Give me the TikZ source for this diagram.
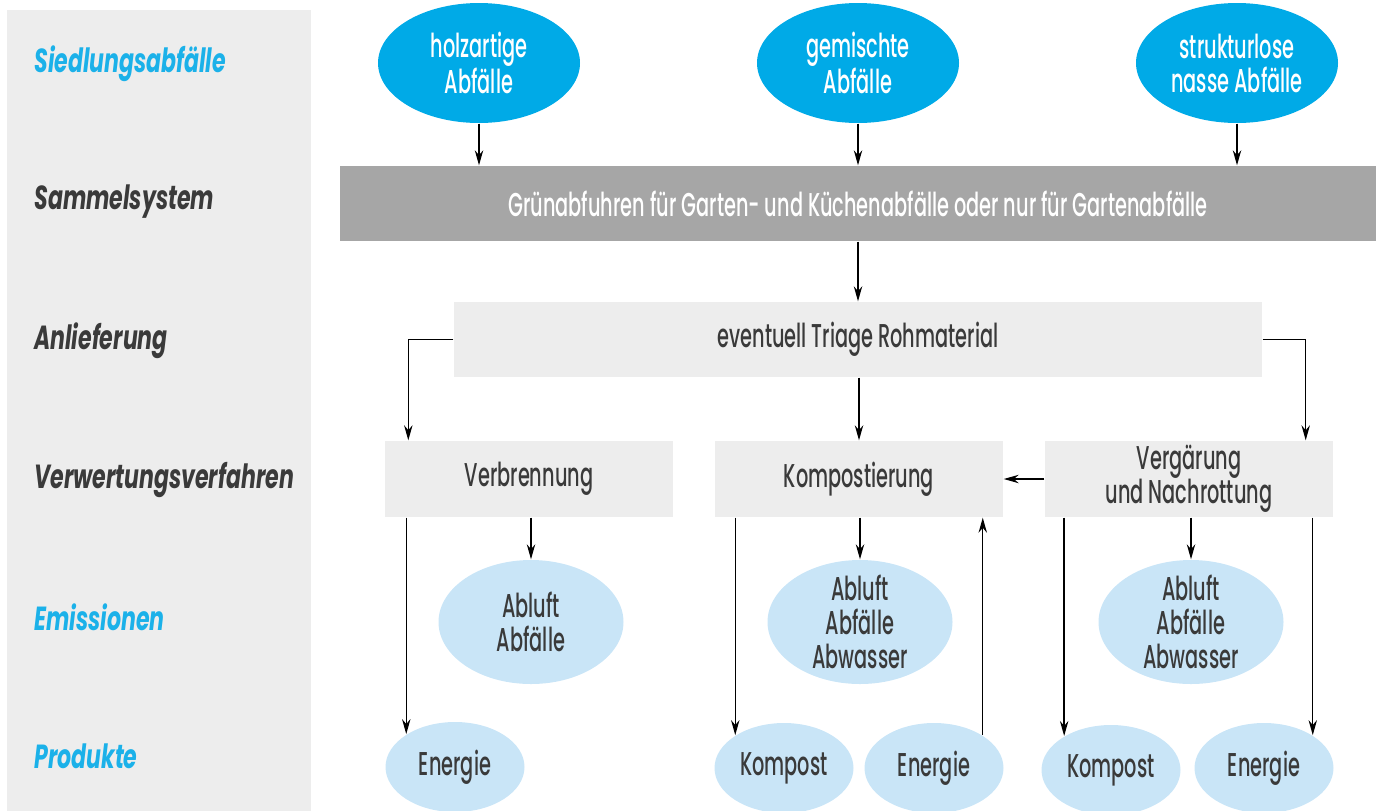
\documentclass[tikz,border=0pt]{standalone}
\usepackage{fontspec}
\setmainfont[FakeStretch=0.585]{Poppins Medium}
\newfontfamily\titelfont[FakeStretch=0.66]{Poppins}
\usetikzlibrary{arrows.meta, shapes.geometric}
\definecolor{cyanlab}{HTML}{1BB1E9}
\definecolor{cyanfill}{HTML}{00AAE7}
\definecolor{hellblau}{HTML}{C9E5F7}
\definecolor{grau}{HTML}{A6A6A6}
\definecolor{hellgrau}{HTML}{EDEDED}
\definecolor{dunkel}{HTML}{3A3A3A}
\begin{document}
\begin{tikzpicture}[x=0.5pt, y=-0.5pt, >={Stealth[length=7.5pt, width=4.2pt]}, line width=0.7pt,
    every node/.style={font=\fontsize{16.5}{17}\selectfont, text=dunkel, align=center},
    zeile/.style={anchor=west, font=\titelfont\fontsize{16.7}{17}\selectfont\bfseries\itshape},
    quelle/.style={ellipse, fill=cyanfill, text=white, minimum width=101pt, minimum height=60pt, inner sep=0pt},
    balken/.style={rectangle, fill=hellgrau, minimum height=37.5pt, inner sep=0pt},
    verfahren/.style={balken, minimum width=144pt, minimum height=38pt},
    emission/.style={ellipse, fill=hellblau, minimum width=92.5pt, minimum height=62pt, inner sep=-8pt},
    produkt/.style={ellipse, fill=hellblau, minimum width=69.5pt, minimum height=45pt, inner sep=0pt}]
    % 0. Rahmen und Hintergrund links
    \useasboundingbox (0,0) rectangle (1376,810);
    \fill[hellgrau] (7,10) rectangle (311,815);

    % 1. Zeilentitel
    \node[zeile, text=cyanlab] (t1) at (27,64) {Siedlungsabfälle};
    \node[zeile] (t2) at (27,202) {Sammelsystem};
    \node[zeile] (t3) at (27,341) {Anlieferung};
    \node[zeile] (t4) at (27,480) {Verwertungsverfahren};
    \node[zeile, text=cyanlab] (t5) at (27,617) {Emissionen};
    \node[zeile, text=cyanlab] (t6) at (27,756) {Produkte};

    % 2. Siedlungsabfälle
    \node[quelle] (holz) at (479,63) {holzartige\\Abfälle};
    \node[quelle] (gemischt) at (858,63) {gemischte\\Abfälle};
    \node[quelle] (nass) at (1237,63) {strukturlose\\nasse Abfälle};

    % 3. Sammelsystem und Anlieferung
    \node[balken, fill=grau, text=white, minimum width=518pt] (sammel) at (858,203.5)
        {Grünabfuhren für Garten- und Küchenabfälle oder nur für Gartenabfälle};
    \node[balken, minimum width=404pt] (triage) at (858,339.5) {eventuell Triage Rohmaterial};

    % 4. Verwertungsverfahren
    \node[verfahren] (verbr) at (529,479) {Verbrennung};
    \node[verfahren] (kompo) at (859,479) {Kompostierung};
    \node[verfahren] (vergaer) at (1189,479) {Vergärung\\und Nachrottung};

    % 5. Emissionen
    \node[emission] (em1) at (531,622) {Abluft\\Abfälle};
    \node[emission] (em2) at (860,622) {Abluft\\Abfälle\\Abwasser};
    \node[emission] (em3) at (1191,622) {Abluft\\Abfälle\\Abwasser};

    % 6. Produkte
    \node[produkt] (en1) at (455,767) {Energie};
    \node[produkt] (kp1) at (784,768) {Kompost};
    \node[produkt] (en2) at (934,768) {Energie};
    \node[produkt] (kp2) at (1111,770) {Kompost};
    \node[produkt] (en3) at (1264,768) {Energie};

    % 7. Pfeile
    \foreach \q in {holz, gemischt, nass}
        \draw[->] (\q.south) -- (\q.south |- sammel.north);
    \draw[->] (sammel.south -| triage.north) -- (triage.north);
    \draw[->] (triage.west) -| ([xshift=12pt]verbr.north west);
    \draw[->] (triage.east) -| ([xshift=-14pt]vergaer.north east);
    \draw[->] (triage.south -| kompo.north) -- (kompo.north);
    \draw[->] (vergaer.west) -- (kompo.east);
    \foreach \v/\e in {verbr/em1, kompo/em2, vergaer/em3}
        \draw[->] (\v.south -| \e.north) -- (\e.north);
    \draw[->] (verbr.south -| en1.146) -- (en1.146);
    \draw[->] (kompo.south -| kp1.146) -- (kp1.146);
    \draw[->] (en2.34) -- (kompo.south -| en2.34);
    \draw[->] (vergaer.south -| kp2.144) -- (kp2.144);
    \draw[->] (vergaer.south -| en3.34) -- (en3.34);
\end{tikzpicture}
\end{document}
